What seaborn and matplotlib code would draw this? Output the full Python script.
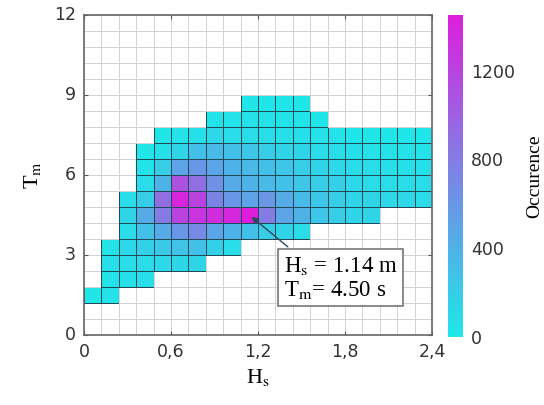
import numpy as np
import pandas as pd
import matplotlib
matplotlib.use("Agg")
import matplotlib.pyplot as plt
from matplotlib.colors import LinearSegmentedColormap
import seaborn as sns

# bins: Hs in steps of 0.12 m (20 bins, 0 - 2.4), Tm in steps of 0.6 s (20 bins, 0 - 12)
hs_edges = np.round(np.arange(0, 2.41, 0.12), 2)
tm_edges = np.round(np.arange(0, 12.01, 0.6), 2)

# occurrence counts per Tm bin (row), starting at column first_col[row]
first_col = {2: 0, 3: 1, 4: 1, 5: 1, 6: 2, 7: 2, 8: 2, 9: 3, 10: 3, 11: 3, 12: 4, 13: 7, 14: 9}
row_counts = {
    2: [20, 40],
    3: [50, 60, 70],
    4: [60, 80, 100, 120, 130, 140],
    5: [40, 120, 180, 230, 280, 300, 180, 100],
    6: [100, 300, 450, 600, 700, 500, 400, 300, 200, 150, 100],
    7: [150, 450, 800, 1200, 1300, 1350, 1380, 1450, 800, 500, 400, 250, 200, 150, 150],
    8: [80, 200, 900, 1400, 1200, 750, 600, 500, 600, 450, 350, 250, 200, 150, 150, 120, 120, 100],
    9: [80, 400, 1100, 900, 650, 450, 400, 350, 300, 250, 200, 180, 120, 100, 100, 90, 80],
    10: [40, 200, 500, 600, 500, 400, 350, 300, 250, 200, 150, 120, 90, 80, 70, 60, 60],
    11: [20, 60, 150, 300, 350, 300, 250, 200, 150, 150, 100, 80, 60, 50, 40, 40, 40],
    12: [20, 40, 60, 120, 100, 100, 80, 70, 60, 50, 30, 25, 20, 20, 15, 15],
    13: [30, 40, 50, 40, 35, 30, 20],
    14: [20, 20, 15, 10],
}

peak_hs = 1.14
peak_tm = 4.50

grid = np.full((len(tm_edges) - 1, len(hs_edges) - 1), np.nan)
for r, vals in row_counts.items():
    c0 = first_col[r]
    grid[r, c0:c0 + len(vals)] = vals
df = pd.DataFrame(grid, index=tm_edges[:-1], columns=hs_edges[:-1])

cmap = LinearSegmentedColormap.from_list("cool_soft", ["#1ee8e8", "#5aa6e6", "#9a66e2", "#dc1edc"])

plt.rcParams["mathtext.fontset"] = "stix"
fig = plt.figure(figsize=(5.44, 4.05), dpi=100)
ax = fig.add_axes([84 / 544, 70 / 405, 348 / 544, 320 / 405])
cax = fig.add_axes([448 / 544, 68 / 405, 15 / 544, 322 / 405])

sns.heatmap(df, mask=df.isna(), cmap=cmap, vmin=0, vmax=1450, ax=ax, cbar_ax=cax,
            linewidths=0.65, linecolor="#2a5a70",
            cbar_kws={"ticks": [0, 400, 800, 1200]})
ax.invert_yaxis()

# dark cell edges only on filled cells, light grid on empty ones
mesh = ax.collections[0]
edge = ["#1f4a5a" if np.isfinite(v) else "#d8d0d8" for v in df.values.ravel()]
mesh.set_edgecolors(edge)
mesh.set_linewidth(0.65)
mesh.set_antialiased(True)

ax.set_xticks(np.arange(0, 21, 5))
ax.set_xticklabels(["0", "0,6", "1,2", "1,8", "2,4"], rotation=0)
ax.set_yticks(np.arange(0, 21, 5))
ax.set_yticklabels(["0", "3", "6", "9", "12"], rotation=0)
ax.tick_params(which="major", direction="in", length=3, top=True, right=True,
               labelsize=12.5, labelcolor="#333333", color="#555555", pad=6)
for s in ax.spines.values():
    s.set_visible(True)
    s.set_color("#666666")
    s.set_linewidth(1.2)

ax.set_xlabel(r"H$_\mathrm{s}$", fontsize=16, family="Liberation Serif", labelpad=4)
ax.set_ylabel(r"T$_\mathrm{m}$", fontsize=16, family="Liberation Serif", labelpad=8)

# annotation of the most frequent sea state
px = peak_hs / 0.12
py = peak_tm / 0.6
ax.annotate(r"H$_\mathrm{s}$ = %.2f m" % peak_hs + "\n" + r"T$_\mathrm{m}$= %.2f s" % peak_tm,
            xy=(px, py), xytext=(11.5, 5.0), ha="left", va="top",
            fontsize=16.5, family="Liberation Serif", linespacing=1.1,
            bbox=dict(boxstyle="square,pad=0.25", fc="white", ec="#777777", lw=1.2),
            arrowprops=dict(arrowstyle="-|>", color="#2a4a5a", lw=1, mutation_scale=10,
                            relpos=(0.12, 1.0)))

cbar = mesh.colorbar
cbar.outline.set_visible(False)
cbar.ax.tick_params(length=0, labelsize=12.5, labelcolor="#333333", pad=6)
cbar.set_label("Occurence", fontsize=14, family="Liberation Serif", labelpad=8)

fig.savefig("out.png", dpi=100)
